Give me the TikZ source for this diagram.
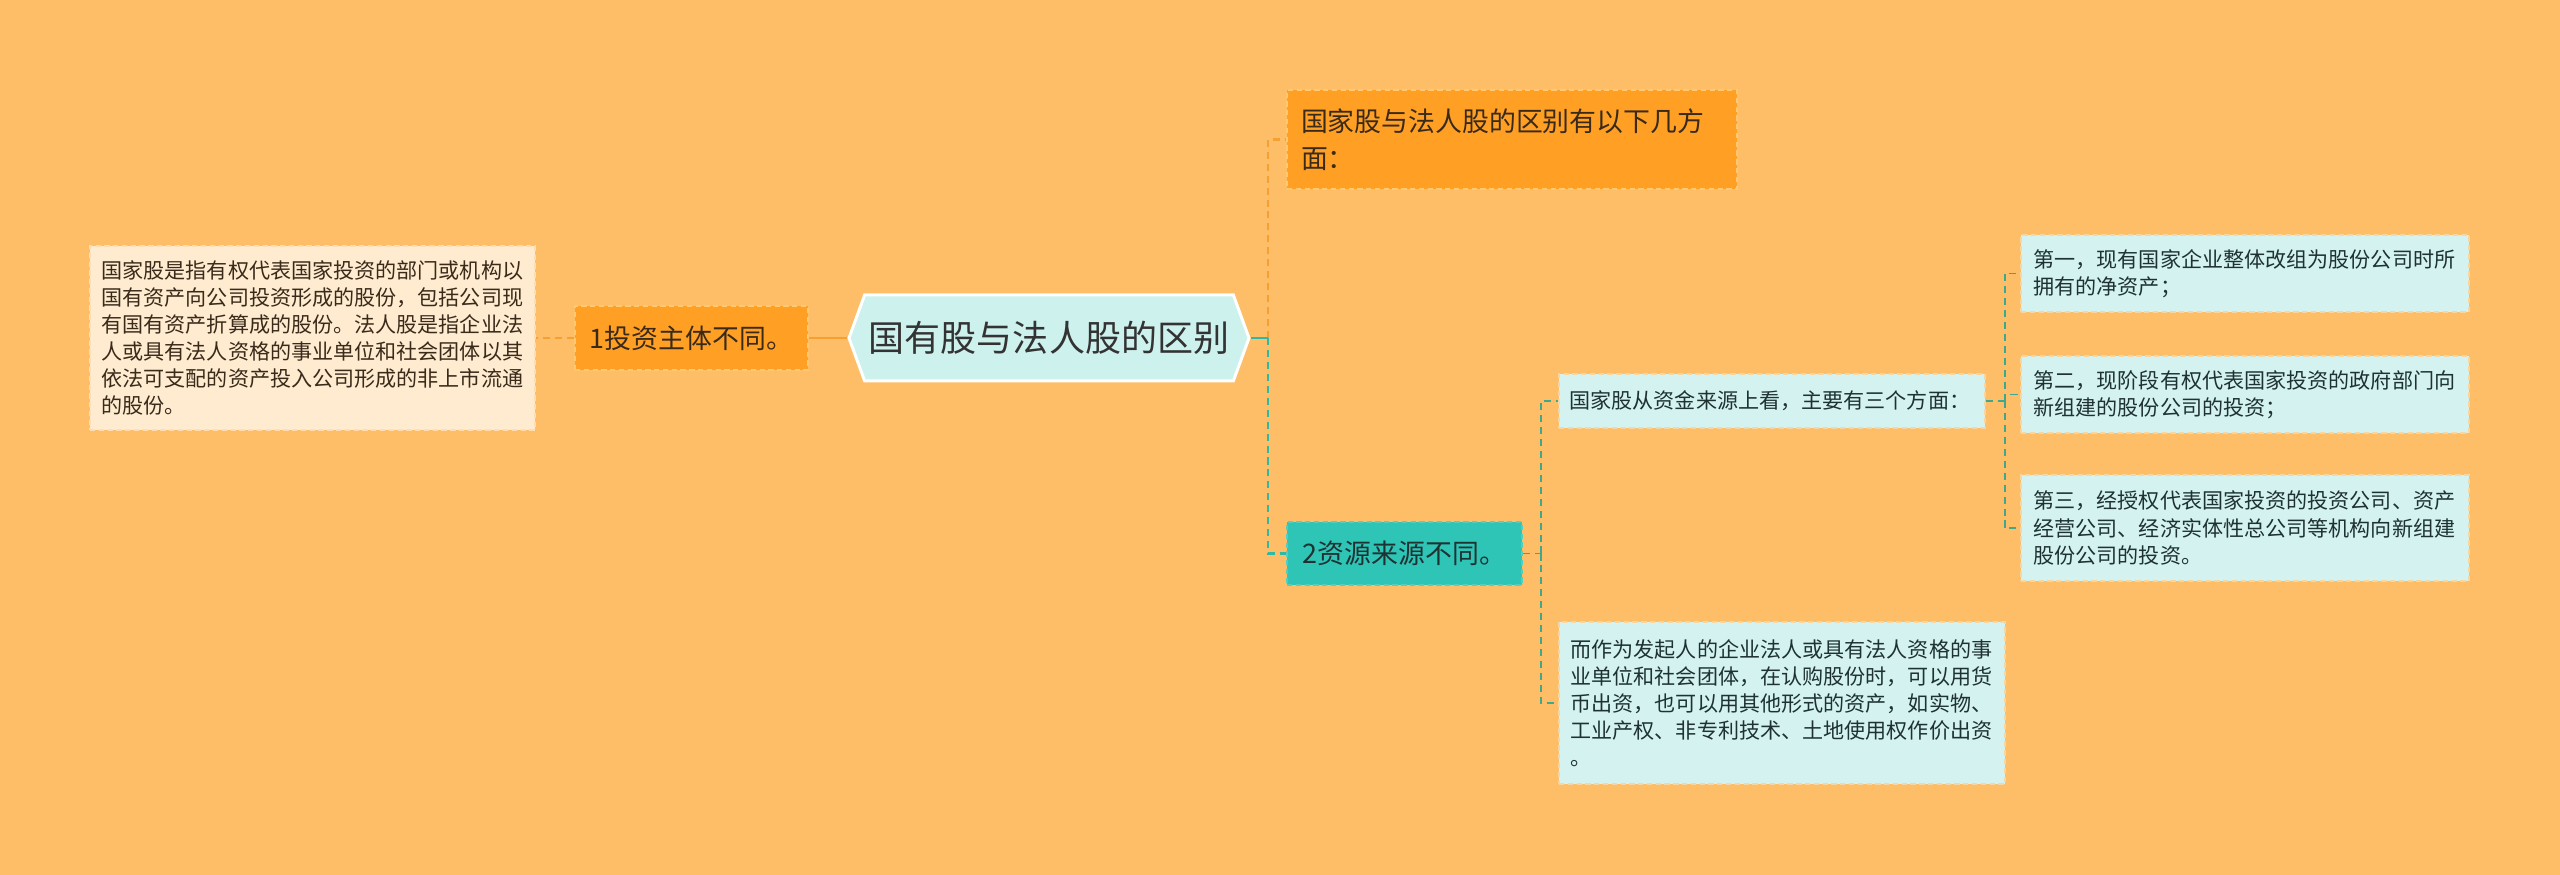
\documentclass[tikz,border=0pt]{standalone}
\usepackage{fontspec}
\setmainfont{Noto Sans CJK SC}
\usetikzlibrary{shapes.symbols}
\definecolor{bgorange}{HTML}{FEBD67}
\definecolor{boxorange}{HTML}{FFA024}
\definecolor{rimorange}{HTML}{FFC872}
\definecolor{rimpale}{HTML}{FFDDB0}
\definecolor{paleorange}{HTML}{FEEBD0}
\definecolor{rootcyan}{HTML}{CDF2EE}
\definecolor{boxteal}{HTML}{2EC4B6}
\definecolor{rimteal}{HTML}{55CDBF}
\definecolor{paleteal}{HTML}{D4F2F0}
\definecolor{rimtealpale}{HTML}{F6D7A4}
\definecolor{lineorange}{HTML}{F5A030}
\definecolor{lineteal}{HTML}{2DB9A3}
\definecolor{deepteal}{HTML}{3FA88C}
\definecolor{inkgray}{HTML}{333333}
\definecolor{inkbrown}{HTML}{3A2A1A}
\definecolor{inkteal}{HTML}{1E3232}
\begin{document}
\begin{tikzpicture}[
  dashlook/.style={dash pattern=on 4pt off 2.8pt},
  rootnode/.style={shape=signal, signal to=west and east, signal pointer angle=140,
    fill=rootcyan, draw=white, line width=1.7pt, minimum width=8cm, minimum height=1.72cm,
    inner sep=0pt, text=inkgray, font=\fontsize{20.5pt}{24pt}\selectfont},
  midbox/.style={line width=1pt, dash pattern=on 3pt off 2pt, text=inkbrown,
    font=\fontsize{15.3pt}{20.9pt}\selectfont},
  leafbox/.style={line width=1pt, dash pattern=on 3pt off 2pt, text=inkteal, align=left,
    text width=8.46cm, inner xsep=0.23cm, font=\fontsize{12pt}{15.4pt}\selectfont},
  orangelink/.style={draw=lineorange, line width=1.4pt},
  teallink/.style={draw=lineteal, line width=1.4pt},
  lowlink/.style={draw=deepteal, line width=1.1pt, dashlook}
]
  \fill[bgorange] (0,0) rectangle (51.2,17.5);

  \node[rootnode] (root) at (20.98,10.74) {国有股与法人股的区别};

  \node[midbox, fill=boxorange, draw=rimorange, minimum width=4.66cm, minimum height=1.28cm]
    (b1) at (13.83,10.74) {1投资主体不同。};
  \node[leafbox, fill=paleorange, draw=rimpale, text=inkbrown, text width=8.44cm, inner xsep=0.23cm, minimum height=3.68cm]
    (det1) at (6.25,10.74) {国家股是指有权代表国家投资的部门或机构以\\国有资产向公司投资形成的股份，包括公司现\\有国有资产折算成的股份。法人股是指企业法\\人或具有法人资格的事业单位和社会团体以其\\依法可支配的资产投入公司形成的非上市流通\\的股份。};

  \node[midbox, fill=boxorange, draw=rimorange, align=left, text width=8.44cm, inner xsep=0.28cm, minimum height=1.98cm]
    (b0) at (30.24,14.71) {国家股与法人股的区别有以下几方\\面：};
  \node[midbox, fill=boxteal, draw=rimteal, text=inkteal, minimum width=4.7cm, minimum height=1.26cm]
    (b2) at (28.09,6.43) {2资源来源不同。};

  \node[leafbox, fill=paleteal, draw=rimtealpale, text width=8.1cm, inner xsep=0.21cm, minimum height=1.08cm]
    (c1) at (35.44,9.48) {国家股从资金来源上看，主要有三个方面：};
  \node[leafbox, fill=paleteal, draw=rimtealpale, minimum height=3.24cm]
    (c2) at (35.64,3.44) {而作为发起人的企业法人或具有法人资格的事\\业单位和社会团体，在认购股份时，可以用货\\币出资，也可以用其他形式的资产，如实物、\\工业产权、非专利技术、土地使用权作价出资\\。};

  \node[leafbox, fill=paleteal, draw=rimtealpale, inner xsep=0.25cm, minimum height=1.54cm]
    (d1) at (44.9,12.03) {第一，现有国家企业整体改组为股份公司时所\\拥有的净资产；};
  \node[leafbox, fill=paleteal, draw=rimtealpale, inner xsep=0.25cm, minimum height=1.54cm]
    (d2) at (44.9,9.61) {第二，现阶段有权代表国家投资的政府部门向\\新组建的股份公司的投资；};
  \node[leafbox, fill=paleteal, draw=rimtealpale, inner xsep=0.25cm, minimum height=2.12cm]
    (d3) at (44.9,6.94) {第三，经授权代表国家投资的投资公司、资产\\经营公司、经济实体性总公司等机构向新组建\\股份公司的投资。};

  % left branch
  \draw[orangelink] (root.west) -- (b1.east);
  \draw[orangelink, dashlook] (b1.west) -- (det1.east);

  % right branch
  \coordinate (hub) at (25.36,10.74);
  \coordinate (hubb) at (30.82,6.43);
  \coordinate (hubc) at (40.1,9.48);
  \draw[orangelink, dashlook] (hub) |- (b0.west);
  \draw[teallink, dashlook] (hub) |- (b2.west);
  \draw[teallink] (root.east) -- (hub);
  \draw[lowlink] (b2.east) -- (hubb);
  \foreach \n in {c1,c2}
    \draw[lowlink] (hubb) |- (\n.west);
  \draw[lowlink] (c1.east) -- (hubc);
  \foreach \n in {d1,d2,d3}
    \draw[lowlink] (hubc) |- (\n.west);
\end{tikzpicture}
\end{document}
